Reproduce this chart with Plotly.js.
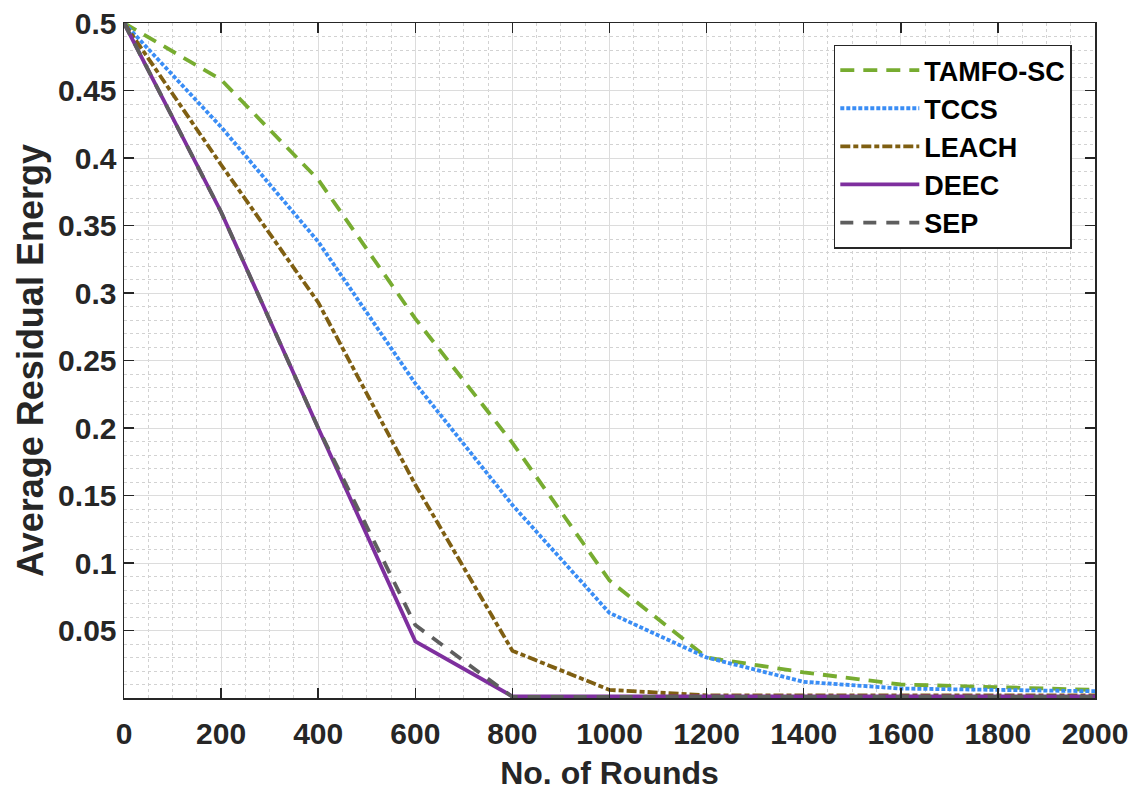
<!DOCTYPE html>
<html>
<head>
<meta charset="utf-8">
<script src="https://cdn.plot.ly/plotly-3.0.1.min.js"></script>
<style>html,body{margin:0;padding:0;background:#fff;}#chart{width:1131px;height:791px;}</style>
</head>
<body>
<div id="chart"></div>
<script>
const rounds = [0, 200, 400, 600, 800, 1000, 1200, 1400, 1600, 1800, 2000];
const tamfoSC = [0.5, 0.458, 0.384, 0.281, 0.189, 0.087, 0.030, 0.019, 0.010, 0.008, 0.006];
const tccs    = [0.5, 0.423, 0.338, 0.233, 0.143, 0.063, 0.030, 0.012, 0.007, 0.006, 0.005];
const leach   = [0.5, 0.395, 0.293, 0.158, 0.035, 0.006, 0.002, 0.002, 0.002, 0.002, 0.002];
const deec    = [0.5, 0.360, 0.200, 0.042, 0.0012, 0.0012, 0.0012, 0.0012, 0.0012, 0.0012, 0.0012];
const sep     = [0.5, 0.360, 0.200, 0.054, 0.0008, 0.0008, 0.0008, 0.0008, 0.0008, 0.0008, 0.0008];
const seriesNames = ['TAMFO-SC', 'TCCS', 'LEACH', 'DEEC', 'SEP'];
const yTicks = [0.05, 0.1, 0.15, 0.2, 0.25, 0.3, 0.35, 0.4, 0.45, 0.5];
const yTickText = ['0.05', '0.1', '0.15', '0.2', '0.25', '0.3', '0.35', '0.4', '0.45', '0.5'];

const fontFam = '"Liberation Sans", Arial, sans-serif';
const txt = '#262626';
const lw = 3.8;

const traces = [
  {x: rounds, y: tamfoSC, name: seriesNames[0], line: {color: '#77AC30', width: lw, dash: '14px,9px'}},
  {x: rounds, y: tccs, name: seriesNames[1], line: {color: '#3A8DF5', width: lw, dash: '4px,2px'}},
  {x: rounds, y: leach, name: seriesNames[2], line: {color: '#7F5F12', width: lw, dash: '10px,3px,5px,3px'}},
  {x: rounds, y: deec, name: seriesNames[3], line: {color: '#7E2F9E', width: lw, dash: 'solid'}},
  {x: rounds, y: sep, name: seriesNames[4], line: {color: '#5E5E5E', width: lw, dash: '13px,10px'}}
].map(t => Object.assign({type: 'scatter', mode: 'lines', hoverinfo: 'skip'}, t));

const axisCommon = {
  showline: true, linecolor: txt, linewidth: 1.5, mirror: 'ticks',
  ticks: 'inside', ticklen: 10, tickwidth: 1.5, tickcolor: txt,
  showgrid: true, gridcolor: '#dcdcdc', gridwidth: 1,
  zeroline: false,
  tickfont: {family: fontFam, size: 30, color: txt, weight: 700}
};

const layout = {
  width: 1131, height: 791,
  paper_bgcolor: '#fff', plot_bgcolor: '#fff',
  margin: {l: 124, r: 36, t: 23, b: 93},
  showlegend: true,
  xaxis: Object.assign({}, axisCommon, {
    range: [0, 2000], tickmode: 'linear', tick0: 0, dtick: 200,
    ticklabelstandoff: 8,
    minor: {tickmode: 'linear', tick0: 0, dtick: 50, showgrid: true, gridcolor: '#d2d2d2', griddash: 'dot', gridwidth: 1, ticks: ''},
    title: {text: 'No. of Rounds', font: {family: fontFam, size: 32, color: txt, weight: 700}, standoff: 16}
  }),
  yaxis: Object.assign({}, axisCommon, {
    range: [0, 0.5], tickmode: 'array', tickvals: yTicks, ticktext: yTickText,
    minor: {tickmode: 'linear', tick0: 0, dtick: 0.01, showgrid: true, gridcolor: '#d2d2d2', griddash: 'dot', gridwidth: 1, ticks: ''},
    title: {text: 'Average Residual Energy', font: {family: fontFam, size: 36, color: txt, weight: 700}, standoff: 3}
  }),
  legend: {
    x: 0.731, y: 0.968, xanchor: 'left', yanchor: 'top',
    bgcolor: '#fff', bordercolor: txt, borderwidth: 1.5,
    font: {family: fontFam, size: 27, color: '#000', weight: 700},
    itemwidth: 79, tracegroupgap: 0
  }
};

Plotly.newPlot('chart', traces, layout, {displayModeBar: false, staticPlot: true});
</script>
</body>
</html>
